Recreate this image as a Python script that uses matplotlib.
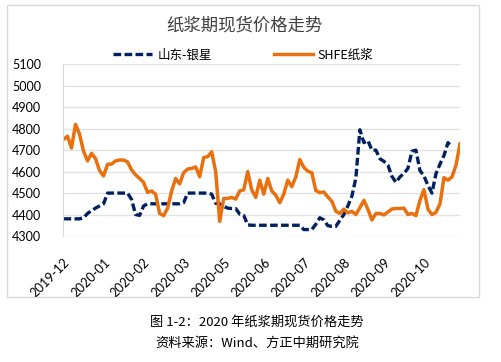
import numpy as np
import matplotlib.pyplot as plt
from matplotlib.patches import Rectangle

# 数据（按交易日顺序，每隔约两个交易日取一个点）
tick_labels = ['2019-12', '2020-01', '2020-02', '2020-03', '2020-05',
               '2020-06', '2020-07', '2020-08', '2020-09', '2020-10']

shfe = [4750, 4765, 4710, 4820, 4775, 4695, 4650, 4685, 4660, 4605,
        4580, 4634, 4635, 4650, 4654, 4654, 4645, 4608, 4585, 4568,
        4550, 4503, 4510, 4495, 4405, 4395, 4430, 4510, 4568, 4543,
        4595, 4612, 4615, 4622, 4576, 4665, 4670, 4692, 4600, 4368,
        4475, 4475, 4480, 4472, 4510, 4515, 4600, 4515, 4480, 4560,
        4495, 4568, 4510, 4490, 4455, 4495, 4560, 4530, 4575, 4656,
        4620, 4602, 4595, 4512, 4502, 4505, 4482, 4462, 4415, 4405,
        4425, 4408, 4415, 4400, 4432, 4466, 4425, 4375, 4405, 4405,
        4398, 4412, 4426, 4428, 4428, 4430, 4400, 4405, 4395, 4466,
        4516, 4425, 4400, 4410, 4450, 4572, 4560, 4575, 4630, 4730]

yinxing = [4380, 4380, 4380, 4380, 4380, 4385, 4405, 4418, 4430, 4440,
           4450, 4500, 4500, 4500, 4500, 4500, 4500, 4470, 4400, 4396,
           4440, 4450, 4450, 4450, 4450, 4450, 4450, 4450, 4450, 4450,
           4455, 4500, 4500, 4500, 4500, 4500, 4500, 4495, 4452, 4450,
           4438, 4430, 4428, 4428, 4402, 4396, 4352, 4350, 4350, 4350,
           4350, 4350, 4350, 4350, 4350, 4350, 4350, 4350, 4350, 4350,
           4330, 4330, 4330, 4355, 4385, 4375, 4348, 4345, 4345, 4373,
           4400, 4440, 4485, 4570, 4795, 4735, 4745, 4700, 4700, 4660,
           4648, 4630, 4578, 4550, 4575, 4592, 4615, 4695, 4700, 4605,
           4580, 4535, 4500, 4590, 4635, 4675, 4735, 4715, np.nan, np.nan]

cjk = ['Noto Sans CJK SC', 'DejaVu Sans']
num = ['Lato', 'Noto Sans CJK SC']

fig = plt.figure(figsize=(5.02, 3.62), dpi=100)

# 外框
fig.patches.append(Rectangle((7 / 502, 1 - 297 / 362), 472 / 502, 292 / 362,
                             transform=fig.transFigure, fill=False,
                             edgecolor='#D9D9D9', linewidth=1))

ax = fig.add_axes([63.5 / 502, 1 - 236 / 362, 396.5 / 502, 171.7 / 362])
x = np.arange(len(shfe))

ax.plot(x, yinxing, color='#002060', linewidth=2.4, dashes=(2.3, 1.0),
        label='山东-银星')
ax.plot(x, shfe, color='#E8700F', linewidth=2.5, label='SHFE纸浆')

ax.set_xlim(0, len(shfe) - 1)
ax.set_ylim(4300, 5100)
ax.set_yticks(np.arange(4300, 5101, 100))
ax.set_xticks(np.arange(0, len(shfe), 10))
ax.set_xticklabels(tick_labels, rotation=45, ha='right', rotation_mode='anchor',
                   family=num, fontsize=9.2)
for lab in ax.get_yticklabels():
    lab.set_family(num)
    lab.set_fontsize(9)
ax.tick_params(axis='both', length=0, colors='black')
ax.tick_params(axis='y', pad=16)
ax.tick_params(axis='x', pad=14.5)
ax.grid(axis='y', color='#E3E3E3', linewidth=1)
ax.set_axisbelow(True)
for s in ['top', 'right', 'bottom']:
    ax.spines[s].set_visible(False)
ax.spines['left'].set_color('#D9D9D9')

fig.text(0.487, 1 - 25.5 / 362, '纸浆期现货价格走势', ha='center', va='center',
         family=cjk, fontsize=12.5, color='#404040')

fig.legend(loc='center', bbox_to_anchor=(0.485, 1 - 55 / 362), ncol=2,
           frameon=False, handlelength=3.1, columnspacing=5.0,
           handletextpad=0.4, prop={'family': cjk, 'size': 9})

fig.text(0.512, 1 - 322 / 362, '图 1-2：2020 年纸浆期现货价格走势', ha='center',
         va='center', family=cjk, fontsize=9.5, color='black')
fig.text(0.512, 1 - 343 / 362, '资料来源：Wind、方正中期研究院', ha='center',
         va='center', family=cjk, fontsize=9.5, color='black')

plt.savefig('out.png', dpi=100)
